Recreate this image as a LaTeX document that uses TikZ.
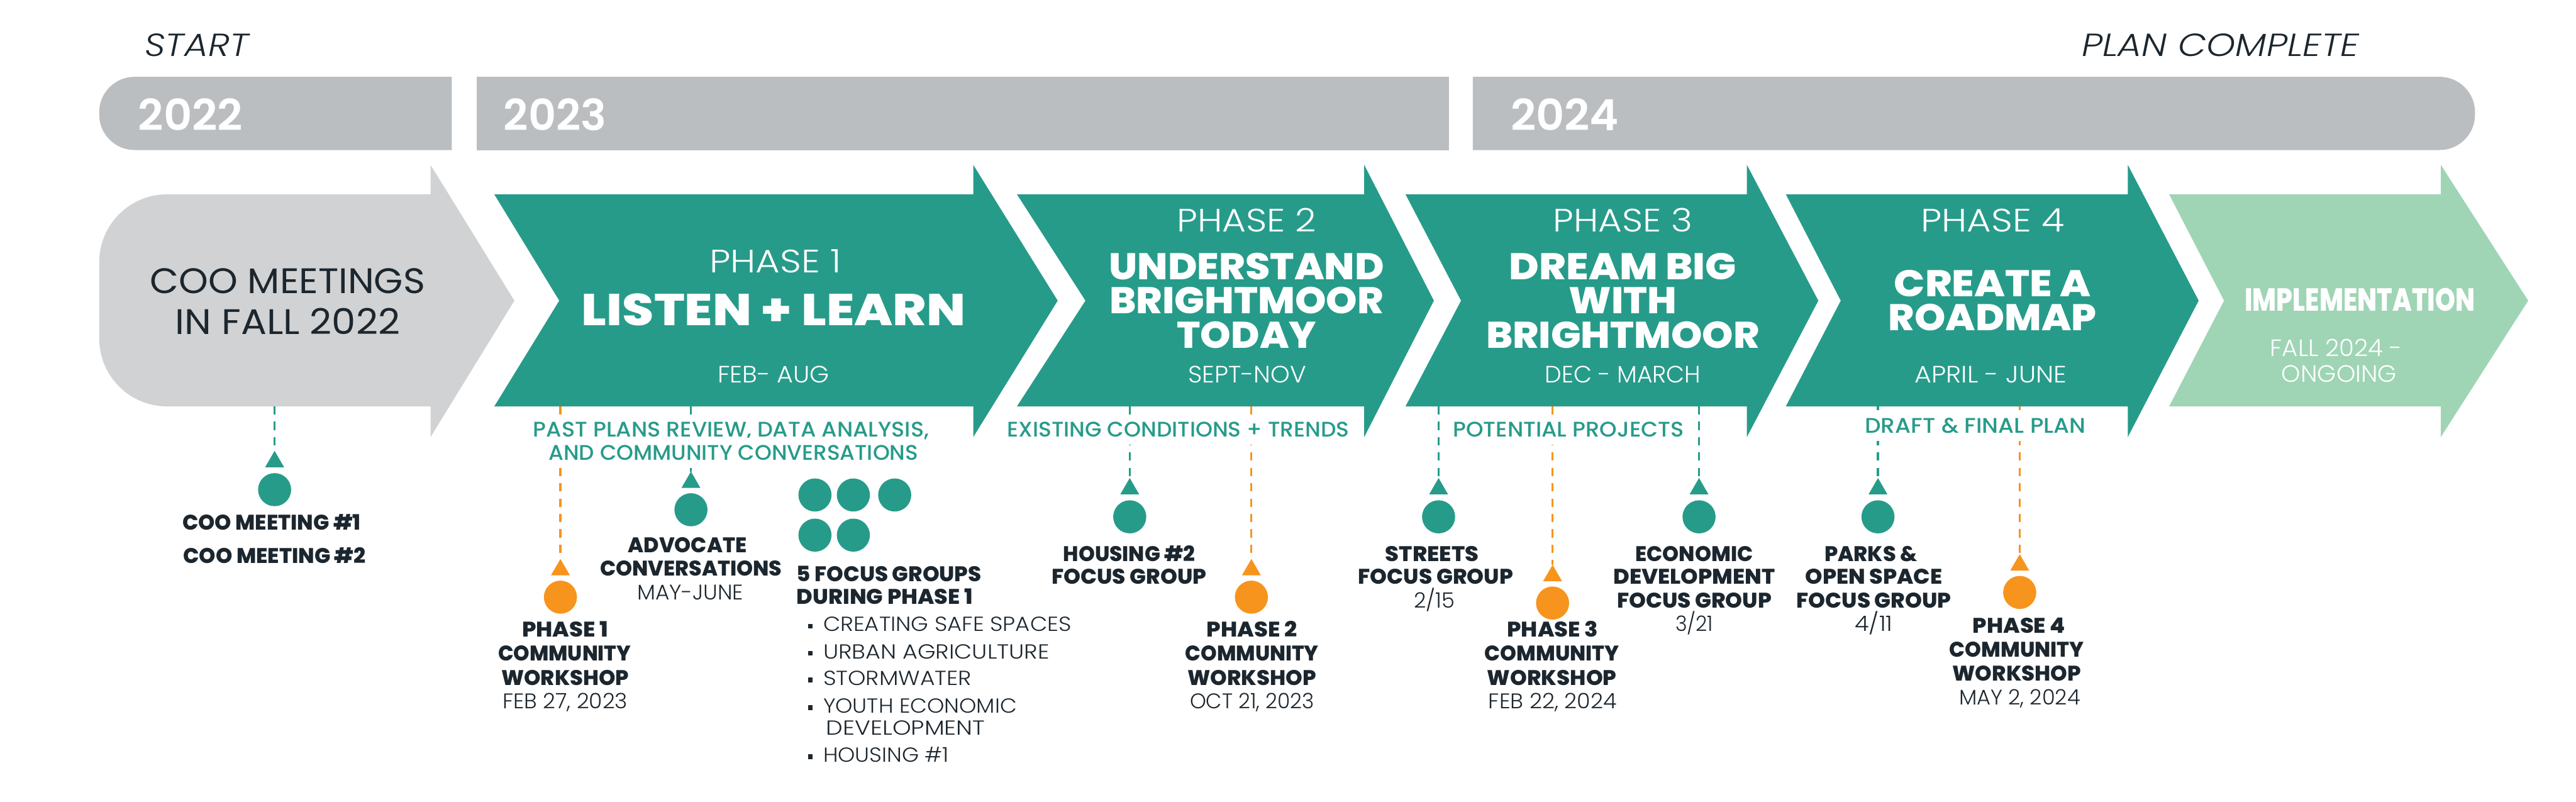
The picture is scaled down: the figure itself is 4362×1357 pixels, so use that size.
\documentclass[tikz,border=0pt]{standalone}
\usepackage{fontspec}
\usepackage{graphicx}
\usetikzlibrary{shapes.geometric}
\setmainfont{Poppins}
\newfontfamily\fPop{Poppins}
\IfFontExistsTF{Poppins Light}{\newfontfamily\fL{Poppins Light}}{\newcommand\fL{\fPop}}
\IfFontExistsTF{Poppins Light Italic}{\newfontfamily\fLI{Poppins Light Italic}}{\newcommand\fLI{\fPop\itshape}}
\IfFontExistsTF{Poppins SemiBold}{\newfontfamily\fSB{Poppins SemiBold}}{\newcommand\fSB{\fPop\bfseries}}
\IfFontExistsTF{Poppins ExtraBold}{\newfontfamily\fXB{Poppins ExtraBold}}{\newcommand\fXB{\fPop\bfseries}}
\IfFontExistsTF{Poppins Medium}{\newfontfamily\fM{Poppins Medium}}{\newcommand\fM{\fPop}}
\newcommand\fsz[1]{\fontsize{#1}{#1}\selectfont}
% text stretched horizontally to a width given in mm (1 mm = 10 px of the reference)
\newcommand\W[2]{\resizebox{#1mm}{\height}{#2}}
\definecolor{cTeal}{HTML}{279B8A}
\definecolor{cMint}{HTML}{9FD5B5}
\definecolor{cGrayA}{HTML}{D1D2D3}
\definecolor{cGrayB}{HTML}{BBBEC1}
\definecolor{cOrange}{HTML}{F7941D}
\definecolor{cDark}{HTML}{1C262E}
\tikzset{
  txt/.style={inner sep=0pt, outer sep=0pt, anchor=base},
  wt/.style={txt, text=white},
  dk/.style={txt, text=cDark},
  yr/.style={txt, anchor=base west, text=white, font=\fSB\fsz{20.7}},
  ph/.style={wt, font=\fL\fsz{15.6}},
  big/.style={wt, font=\fXB\fsz{17.9}},
  pdate/.style={wt, font=\fL\fsz{11.4}},
  tlab/.style={txt, text=cTeal, font=\fM\fsz{10.2}, fill=white, inner xsep=1mm, inner ysep=1.3mm},
  bl/.style={dk, font=\fXB\fsz{10.2}},
  dt/.style={dk, font=\fL\fsz{10.2}},
  li/.style={dk, anchor=base west, font=\fL\fsz{9.8}},
  dashT/.style={draw=cTeal, line width=0.35mm, dash pattern=on 1.4mm off 1.2mm},
  dashO/.style={draw=cOrange, line width=0.35mm, dash pattern=on 1.4mm off 1.2mm},
  tri/.style={regular polygon, regular polygon sides=3, minimum size=3.7mm, inner sep=0pt, outer sep=0pt, fill=#1},
  dot/.style={circle, minimum size=5.6mm, inner sep=0pt, outer sep=0pt, fill=#1},
  sq/.style={rectangle, minimum size=0.8mm, inner sep=0pt, fill=cDark}
}
\begin{document}
\begin{tikzpicture}[x=0.1mm, y=-0.1mm]
\useasboundingbox (0,0) rectangle (4362,1357);
\fill[white] (0,0) rectangle (4362,1357);

% ---- year bars
\fill[cGrayB] (765,130) -- (228,130) arc[start angle=90, end angle=180, radius=6mm] -- (168,194) arc[start angle=180, end angle=270, radius=6mm] -- (765,254) -- cycle;
\fill[cGrayB] (807,130) rectangle (2454,254);
\fill[cGrayB] (2494,130) -- (4131,130) arc[start angle=90, end angle=0, radius=6mm] -- (4191,194) arc[start angle=0, end angle=-90, radius=6mm] -- (2494,254) -- cycle;
\node[yr] (y22) at (234,221) {\W{17.7}{2022}};
\node[yr] (y23) at (853,221) {\W{17.4}{2023}};
\node[yr] (y24) at (2558,221) {\W{18.3}{2024}};
\node[dk, anchor=base west, font=\fLI\fsz{15.4}] (start) at (245,95) {\W{17.6}{START}};
\node[dk, anchor=base east, font=\fLI\fsz{15.4}] (plan) at (3995,95) {\W{47.0}{PLAN COMPLETE}};

% ---- arrows
\fill[cGrayA] (729,329) -- (283,329) arc[start angle=90, end angle=180, radius=11.5mm] -- (168,573) arc[start angle=180, end angle=270, radius=11.5mm] -- (729,688) -- (729,740) -- (871,509) -- (729,279) -- cycle;
\fill[cTeal] (837,329) -- (1648,329) -- (1648,279) -- (1791,509) -- (1648,740) -- (1648,688) -- (837,688) -- (947,509) -- cycle;
\fill[cTeal] (1722,329) -- (2310,329) -- (2310,279) -- (2428,509) -- (2310,740) -- (2310,688) -- (1722,688) -- (1838,509) -- cycle;
\fill[cTeal] (2380,329) -- (2958,329) -- (2958,279) -- (3079,509) -- (2958,740) -- (2958,688) -- (2380,688) -- (2474,509) -- cycle;
\fill[cTeal] (3024,329) -- (3603,329) -- (3603,279) -- (3723,509) -- (3603,740) -- (3603,688) -- (3024,688) -- (3117,509) -- cycle;
\fill[cMint] (3673,329) -- (4133,329) -- (4133,279) -- (4281,509) -- (4133,740) -- (4133,688) -- (3673,688) -- (3766,509) -- cycle;

% ---- arrow texts
\node[dk, font=\fPop\fsz{17.1}] (coo1) at (487,497) {\W{46.6}{COO MEETINGS}};
\node[dk, font=\fPop\fsz{17.1}] (coo2) at (487,566) {\W{38.1}{IN FALL 2022}};

\node[ph] (p1a) at (1313,462) {\W{22.3}{PHASE 1}};
\node[wt, font=\fXB\fsz{21.5}] (p1b) at (1310,551) {\W{65.0}{LISTEN + LEARN}};
\node[pdate] (p1c) at (1310,648) {\W{18.9}{FEB- AUG}};

\node[ph] (p2a) at (2111,392) {\W{23.6}{PHASE 2}};
\node[big] (p2b) at (2111,473) {\W{46.6}{UNDERSTAND}};
\node[big] (p2c) at (2111,531) {\W{46.4}{BRIGHTMOOR}};
\node[big] (p2d) at (2111,589) {\W{23.6}{TODAY}};
\node[pdate] (p2e) at (2112,648) {\W{20.0}{SEPT-NOV}};

\node[ph] (p3a) at (2748,392) {\W{23.6}{PHASE 3}};
\node[big] (p3b) at (2748,473) {\W{38.5}{DREAM BIG}};
\node[big] (p3c) at (2748,531) {\W{18.3}{WITH}};
\node[big] (p3d) at (2748,589) {\W{46.3}{BRIGHTMOOR}};
\node[pdate] (p3e) at (2748,648) {\W{26.4}{DEC - MARCH}};

\node[ph] (p4a) at (3374,392) {\W{24.3}{PHASE 4}};
\node[big] (p4b) at (3374,502) {\W{33.3}{CREATE A}};
\node[big] (p4c) at (3374,560) {\W{35.2}{ROADMAP}};
\node[pdate] (p4d) at (3371,648) {\W{25.7}{APRIL - JUNE}};

\node[wt, font=\fXB\fsz{15.4}] (imp1) at (3996,527) {\W{39.0}{IMPLEMENTATION}};
\node[pdate] (imp2) at (3956,603) {\W{22.4}{FALL 2024 -}};
\node[pdate] (imp3) at (3961,647) {\W{19.5}{ONGOING}};

% ---- connector tops
\coordinate (k1) at (465,688);
\coordinate (k2) at (949,688);
\coordinate (k3) at (1170,688);
\coordinate (k5) at (1913,688);
\coordinate (k6) at (2119,688);
\coordinate (k7) at (2436,688);
\coordinate (k8) at (2629,688);
\coordinate (k9) at (2877,688);
\coordinate (k10) at (3180,688);
\coordinate (k11) at (3420,688);

% ---- triangles (centre = bottom - 9.25)
\node[tri=cTeal] (t1) at (465,781.75) {};
\node[tri=cOrange] (t2) at (949,964.75) {};
\node[tri=cTeal] (t3) at (1170,816.75) {};
\node[tri=cTeal] (t5) at (1913,827.75) {};
\node[tri=cOrange] (t6) at (2119,964.75) {};
\node[tri=cTeal] (t7) at (2436,827.75) {};
\node[tri=cOrange] (t8) at (2629,974.75) {};
\node[tri=cTeal] (t9) at (2877,827.75) {};
\node[tri=cTeal] (t10) at (3180,827.75) {};
\node[tri=cOrange] (t11) at (3420,956.75) {};

% ---- dashed connectors
\draw[dashT] (k1) -- (t1.corner 1);
\draw[dashO] (k2) -- (t2.corner 1);
\draw[dashT] (k3) -- (t3.corner 1);
\draw[dashT] (k5) -- (t5.corner 1);
\draw[dashO] (k6) -- (t6.corner 1);
\draw[dashT] (k7) -- (t7.corner 1);
\draw[dashO] (k8) -- (t8.corner 1);
\draw[dashT] (k9) -- (t9.corner 1);
\draw[dashT] (k10) -- (t10.corner 1);
\draw[dashO] (k11) -- (t11.corner 1);

% ---- teal phase labels (mask lines)
\node[tlab] (l1a) at (1238,740) {\W{67.0}{PAST PLANS REVIEW, DATA ANALYSIS,}};
\node[tlab] (l1b) at (1242,779) {\W{62.6}{AND COMMUNITY CONVERSATIONS}};
\node[tlab] (l2) at (1995,740) {\W{57.9}{EXISTING CONDITIONS + TRENDS}};
\node[tlab] (l3) at (2656,740) {\W{39.1}{POTENTIAL PROJECTS}};
\node[tlab] (l4) at (3345,733) {\W{37.4}{DRAFT \& FINAL PLAN}};

% ---- dots
\node[dot=cTeal] (d1) at (465,829) {};
\node[dot=cOrange] (d2) at (949,1011) {};
\node[dot=cTeal] (d3) at (1170,863) {};
\node[dot=cTeal] (fg1) at (1380,838) {};
\node[dot=cTeal] (fg2) at (1445,838) {};
\node[dot=cTeal] (fg3) at (1515,838) {};
\node[dot=cTeal] (fg4) at (1380,906) {};
\node[dot=cTeal] (fg5) at (1445,906) {};
\node[dot=cTeal] (d5) at (1913,875) {};
\node[dot=cOrange] (d6) at (2119,1011) {};
\node[dot=cTeal] (d7) at (2436,875) {};
\node[dot=cOrange] (d8) at (2629,1021) {};
\node[dot=cTeal] (d9) at (2877,875) {};
\node[dot=cTeal] (d10) at (3180,875) {};
\node[dot=cOrange] (d11) at (3420,1003) {};

% ---- milestone labels
\node[bl] (m1a) at (460,897) {\W{30.2}{COO MEETING \#1}};
\node[bl] (m1b) at (465,954) {\W{30.9}{COO MEETING \#2}};

\node[bl] (m2a) at (957,1078) {\W{14.6}{PHASE 1}};
\node[bl] (m2b) at (956,1119) {\W{22.5}{COMMUNITY}};
\node[bl] (m2c) at (957,1160) {\W{21.6}{WORKSHOP}};
\node[dt] (m2d) at (957,1200) {\W{21.2}{FEB 27, 2023}};

\node[bl] (m3a) at (1164,935) {\W{20.1}{ADVOCATE}};
\node[bl] (m3b) at (1170,975) {\W{30.8}{CONVERSATIONS}};
\node[dt] (m3c) at (1169,1015) {\W{18.0}{MAY-JUNE}};

\node[bl, anchor=base west] (m4a) at (1349,984) {\W{31.3}{5 FOCUS GROUPS}};
\node[bl, anchor=base west] (m4b) at (1349,1023) {\W{29.8}{DURING PHASE 1}};
\node[sq] (s1) at (1372,1060) {};
\node[li] (i1) at (1394,1069) {\W{42.0}{CREATING SAFE SPACES}};
\node[sq] (s2) at (1372,1106) {};
\node[li] (i2) at (1394,1115) {\W{38.3}{URBAN AGRICULTURE}};
\node[sq] (s3) at (1372,1151) {};
\node[li] (i3) at (1394,1160) {\W{25.1}{STORMWATER}};
\node[sq] (s4) at (1372,1198) {};
\node[li] (i4) at (1394,1207) {\W{32.8}{YOUTH ECONOMIC}};
\node[li] (i5) at (1399,1244) {\W{26.9}{DEVELOPMENT}};
\node[sq] (s6) at (1372,1281) {};
\node[li] (i6) at (1394,1290) {\W{21.3}{HOUSING \#1}};

\node[bl] (m5a) at (1912,950) {\W{22.3}{HOUSING \#2}};
\node[bl] (m5b) at (1912,989) {\W{26.2}{FOCUS GROUP}};

\node[bl] (m6a) at (2120,1078) {\W{15.3}{PHASE 2}};
\node[bl] (m6b) at (2120,1119) {\W{22.6}{COMMUNITY}};
\node[bl] (m6c) at (2120,1160) {\W{21.8}{WORKSHOP}};
\node[dt] (m6d) at (2120,1200) {\W{21.0}{OCT 21, 2023}};

\node[bl] (m7a) at (2425,950) {\W{15.8}{STREETS}};
\node[bl] (m7b) at (2431,989) {\W{26.2}{FOCUS GROUP}};
\node[dt] (m7c) at (2429,1029) {\W{6.9}{2/15}};

\node[bl] (m8a) at (2629,1078) {\W{15.4}{PHASE 3}};
\node[bl] (m8b) at (2628,1119) {\W{22.8}{COMMUNITY}};
\node[bl] (m8c) at (2628,1160) {\W{21.9}{WORKSHOP}};
\node[dt] (m8d) at (2629,1200) {\W{21.7}{FEB 22, 2024}};

\node[bl] (m9a) at (2869,950) {\W{19.9}{ECONOMIC}};
\node[bl] (m9b) at (2869,989) {\W{27.4}{DEVELOPMENT}};
\node[bl] (m9c) at (2869,1029) {\W{26.2}{FOCUS GROUP}};
\node[dt] (m9d) at (2869,1069) {\W{6.4}{3/21}};

\node[bl] (m10a) at (3168,950) {\W{15.7}{PARKS \&}};
\node[bl] (m10b) at (3173,989) {\W{23.2}{OPEN SPACE}};
\node[bl] (m10c) at (3173,1029) {\W{26.2}{FOCUS GROUP}};
\node[dt] (m10d) at (3173,1069) {\W{6.4}{4/11}};

\node[bl] (m11a) at (3419,1072) {\W{15.7}{PHASE 4}};
\node[bl] (m11b) at (3415,1112) {\W{22.8}{COMMUNITY}};
\node[bl] (m11c) at (3415,1153) {\W{21.8}{WORKSHOP}};
\node[dt] (m11d) at (3420,1193) {\W{20.5}{MAY 2, 2024}};
\end{tikzpicture}
\end{document}
